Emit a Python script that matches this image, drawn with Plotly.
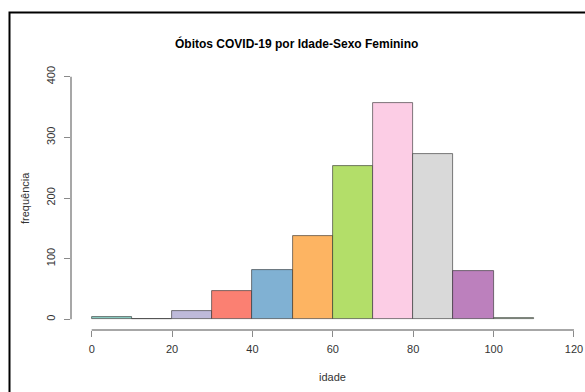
import plotly.graph_objects as go

# Data
bin_edges = [0, 10, 20, 30, 40, 50, 60, 70, 80, 90, 100, 110]
frequencias = [4, 1, 14, 46, 82, 138, 252, 357, 273, 79, 3]
cores = ["#8DD3C7", "#FFFFB3", "#BEBADA", "#FB8072", "#80B1D3", "#FDB462",
         "#B3DE69", "#FCCDE5", "#D9D9D9", "#BC80BD", "#CCEBC5"]
x_ticks = [0, 20, 40, 60, 80, 100, 120]
y_ticks = [0, 100, 200, 300, 400]
titulo = "Óbitos COVID-19 por Idade-Sexo Feminino"
x_label = "idade"
y_label = "frequência"

centros = [(bin_edges[i] + bin_edges[i + 1]) / 2 for i in range(len(frequencias))]
larguras = [bin_edges[i + 1] - bin_edges[i] for i in range(len(frequencias))]

W, H = 585, 392
L, R, T, B = 71, 3, 67, 62
pw = W - L - R
ph = H - T - B

def px_to_paper_x(px):
    return (px - L) / pw

def px_to_paper_y(py):
    return (H - B - py) / ph

fig = go.Figure()
fig.add_trace(go.Bar(
    x=centros, y=frequencias, width=larguras,
    marker=dict(color=cores, line=dict(color="rgba(40,40,40,0.75)", width=0.8)),
    hoverinfo="x+y", showlegend=False,
))

axis_color = "#8a8a8a"
font_fam = "Liberation Sans, Arial, sans-serif"

fig.update_layout(
    width=W, height=H,
    margin=dict(l=L, r=R, t=T, b=B, pad=0, autoexpand=False),
    paper_bgcolor="white", plot_bgcolor="white",
    bargap=0,
    font=dict(family=font_fam, size=11, color="#333333"),
    xaxis=dict(range=[-5.15, 122], tickvals=x_ticks, ticks="outside", ticklen=6,
               tickwidth=1.3, tickcolor=axis_color, showline=False, showgrid=False,
               zeroline=False, automargin=False, ticklabelstandoff=3,
               tickfont=dict(size=11, color="#333333")),
    yaxis=dict(range=[-17.6, 416], tickvals=y_ticks, ticks="outside", ticklen=6,
               tickwidth=1.3, tickcolor=axis_color, showline=False, showgrid=False,
               zeroline=False, automargin=False, tickangle=-90, ticklabelstandoff=5,
               tickfont=dict(size=11, color="#333333")),
    shapes=[
        # x axis line from first to last tick
        dict(type="line", xref="x", yref="paper", x0=x_ticks[0], x1=x_ticks[-1],
             y0=0, y1=0, line=dict(color=axis_color, width=1.5)),
        # y axis line from first to last tick
        dict(type="line", xref="paper", yref="y", x0=0, x1=0,
             y0=y_ticks[0], y1=y_ticks[-1], line=dict(color=axis_color, width=1.5)),
        # outer frame
        dict(type="rect", xref="paper", yref="paper",
             x0=px_to_paper_x(9.5), x1=px_to_paper_x(600),
             y0=px_to_paper_y(410), y1=px_to_paper_y(12.5),
             line=dict(color="black", width=2)),
    ],
    annotations=[
        dict(text="<b>" + titulo + "</b>", xref="paper", yref="paper",
             x=px_to_paper_x(296), y=px_to_paper_y(43), showarrow=False,
             xanchor="center", yanchor="middle",
             font=dict(size=12, color="black", family=font_fam)),
        dict(text=x_label, xref="paper", yref="paper",
             x=px_to_paper_x(332), y=px_to_paper_y(377), showarrow=False,
             xanchor="center", yanchor="middle",
             font=dict(size=11, color="#333333", family=font_fam)),
        dict(text=y_label, xref="paper", yref="paper",
             x=px_to_paper_x(25), y=px_to_paper_y(198), showarrow=False,
             xanchor="center", yanchor="middle", textangle=-90,
             font=dict(size=11, color="#333333", family=font_fam)),
    ],
)

fig.write_html("out.html", config={"displayModeBar": False},
               post_script="document.body.style.margin='0px';document.body.style.overflow='hidden';")
